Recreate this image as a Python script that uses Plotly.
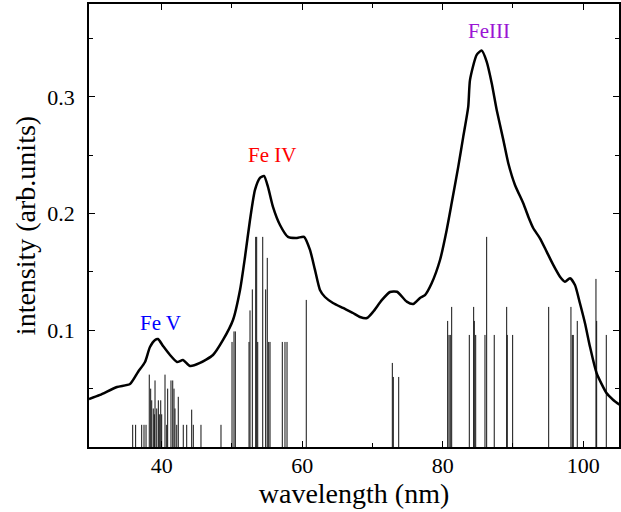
import plotly.graph_objects as go

# Measured spectrum (wavelength nm, intensity arb. units)
spec_wl = [29.65, 31.22, 33.64, 35.49, 36.63, 37.62, 38.33, 39.05, 39.47, 40.19,
           41.18, 42.18, 43.03, 44.03, 45.45, 47.3, 48.73, 50.15, 51.15, 51.86,
           52.57, 53.28, 53.99, 54.56, 55.13, 55.84, 56.84, 57.98, 59.26, 60.26,
           61.11, 61.82, 62.53, 63.24, 64.38, 65.8, 67.23, 68.23, 69.22, 70.08,
           71.36, 72.5, 73.5, 74.88, 75.81, 76.77, 77.48, 78.43, 79.62, 80.57,
           81.28, 82.22, 82.93, 83.64, 83.89, 84.84, 85.55, 86.26, 86.98, 87.69,
           88.63, 89.34, 90.29, 91.47, 92.19, 92.9, 93.85, 94.8, 95.74, 96.7,
           97.41, 98.12, 98.83, 99.54, 100.26, 100.97, 101.92, 103.35, 104.28, 105.23]
spec_int = [0.0411, 0.0446, 0.0514, 0.054, 0.0643, 0.0728, 0.0857, 0.0917, 0.0925, 0.0865,
            0.0788, 0.0728, 0.0745, 0.0694, 0.072, 0.0788, 0.0917, 0.1088, 0.1345, 0.1628,
            0.1945, 0.2202, 0.2305, 0.2322, 0.2228, 0.2057, 0.1902, 0.18, 0.1791, 0.18,
            0.1688, 0.1517, 0.1345, 0.1285, 0.1234, 0.1191, 0.1148, 0.1114, 0.1105, 0.1157,
            0.126, 0.1328, 0.133, 0.1245, 0.1225, 0.1277, 0.1302, 0.1403, 0.1602, 0.186,
            0.209, 0.2402, 0.2659, 0.2916, 0.3145, 0.3359, 0.3396, 0.3302, 0.3117, 0.2888,
            0.2631, 0.2431, 0.2245, 0.2088, 0.1973, 0.1874, 0.1788, 0.1674, 0.156, 0.1459,
            0.1416, 0.1446, 0.1388, 0.1231, 0.106, 0.0859, 0.0632, 0.046, 0.0403, 0.036]

# Calculated transition lines (wavelength nm, relative strength)
line_wl = [35.87, 36.29, 37.15, 37.48, 37.77, 38.23, 38.43, 38.58, 38.80, 38.95,
           39.05, 39.29, 39.52, 39.66, 39.86, 40.0, 40.47, 40.71, 40.85, 41.32,
           41.57, 41.75, 41.89, 42.14, 42.36, 43.07, 43.56, 44.27, 44.50, 45.59,
           48.44,
           50.01, 50.29, 50.48, 52.43, 52.57, 52.90, 53.38, 53.52, 53.67, 54.38,
           54.80, 55.03, 55.23, 55.42, 57.17, 57.55, 57.84, 60.58,
           72.83, 72.97, 73.74, 80.71, 80.90, 81.08, 81.28, 83.79, 84.41, 84.50,
           84.70, 86.02, 86.26, 87.34, 89.11, 89.19, 89.96, 95.09, 98.26, 98.45,
           98.59, 99.16, 101.82, 101.92, 103.29]
line_int = [0.019, 0.019, 0.019, 0.019, 0.019, 0.062, 0.050, 0.040, 0.033, 0.028,
            0.057, 0.033, 0.040, 0.028, 0.040, 0.028, 0.062, 0.019, 0.050, 0.057,
            0.057, 0.050, 0.033, 0.019, 0.043, 0.019, 0.019, 0.032, 0.019, 0.019,
            0.019,
            0.090, 0.099, 0.099, 0.090, 0.117, 0.135, 0.180, 0.180, 0.090, 0.180,
            0.135, 0.162, 0.090, 0.090, 0.090, 0.090, 0.090, 0.126,
            0.072, 0.060, 0.060, 0.108, 0.096, 0.096, 0.120, 0.096, 0.120, 0.108,
            0.096, 0.096, 0.180, 0.096, 0.120, 0.096, 0.096, 0.120, 0.120, 0.096,
            0.096, 0.108, 0.144, 0.108, 0.096]

ion_labels = ["Fe V", "Fe IV", "FeIII"]
ion_label_x = [39.78, 55.7, 86.55]
ion_label_y = [0.106, 0.25, 0.356]
ion_colors = ["#0000ff", "#ff0000", "#9a14d4"]

x_ticks = [40, 60, 80, 100]
y_ticks = [0.1, 0.2, 0.3]

FONT = "Liberation Serif, Times New Roman, serif"

# stick lines built from the line lists
stick_x, stick_y = [], []
for w, h in zip(line_wl, line_int):
    stick_x += [w, w, None]
    stick_y += [0, h, None]

fig = go.Figure()
fig.add_trace(go.Scatter(x=stick_x, y=stick_y, mode="lines",
                         line=dict(color="#111111", width=1), hoverinfo="skip"))
fig.add_trace(go.Scatter(x=spec_wl, y=spec_int, mode="lines",
                         line=dict(color="black", width=2.5, shape="spline", smoothing=0.6)))

for t, x, y, c in zip(ion_labels, ion_label_x, ion_label_y, ion_colors):
    fig.add_annotation(x=x, y=y, text=t, showarrow=False,
                       font=dict(family=FONT, size=21, color=c))

fig.update_layout(
    width=621, height=512,
    margin=dict(l=89, r=2, t=4, b=65, autoexpand=False),
    paper_bgcolor="white", plot_bgcolor="white",
    showlegend=False,
    font=dict(family=FONT, size=22, color="black"),
)
fig.update_xaxes(
    range=[29.65, 105.1], tickvals=x_ticks, ticks="inside", ticklen=6,
    tickcolor="black", tickwidth=1.2, automargin=False,
    minor=dict(tickvals=[50, 70, 90], ticks="inside", ticklen=4, tickcolor="black"),
    showline=True, linecolor="black", linewidth=1.5, mirror="ticks",
    showgrid=False, zeroline=False,
    title=dict(text="wavelength (nm)", font=dict(family=FONT, size=28), standoff=4),
    tickfont=dict(family=FONT, size=22),
    ticklabelstandoff=-2,
)
fig.update_yaxes(
    range=[0, 0.3795], tickvals=y_ticks, ticks="inside", ticklen=6,
    tickcolor="black", tickwidth=1.2, automargin=False,
    minor=dict(tickvals=[0.05, 0.15, 0.25, 0.35], ticks="inside", ticklen=4, tickcolor="black"),
    showline=True, linecolor="black", linewidth=1.5, mirror="ticks",
    showgrid=False, zeroline=False,
    title=dict(text="intensity (arb.units)", font=dict(family=FONT, size=28), standoff=4),
    tickfont=dict(family=FONT, size=22),
    ticklabelstandoff=8,
)

fig.write_html("out.html", config={"displayModeBar": False},
               post_script="document.body.style.margin='0';")
